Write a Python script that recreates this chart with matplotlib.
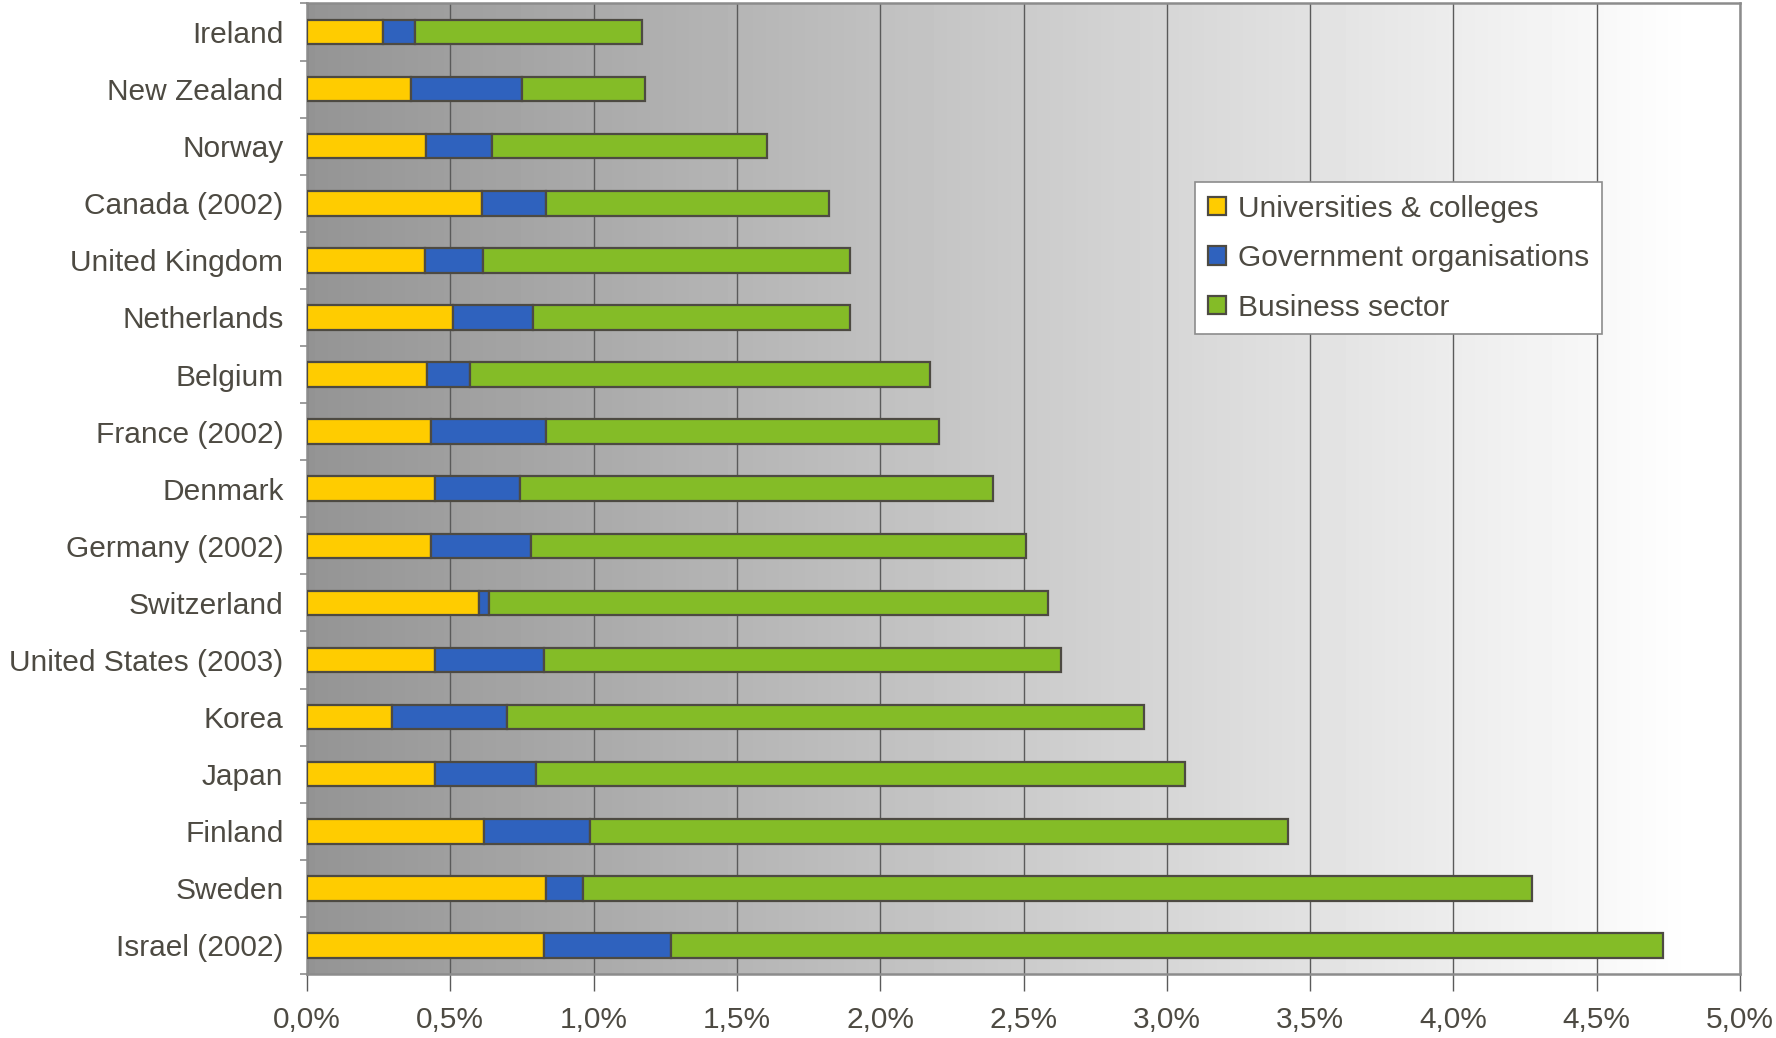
import matplotlib
matplotlib.use("Agg")
import matplotlib.pyplot as plt
import numpy as np
from matplotlib.ticker import FuncFormatter, MultipleLocator, FixedLocator

countries = ["Ireland", "New Zealand", "Norway", "Canada (2002)", "United Kingdom",
             "Netherlands", "Belgium", "France (2002)", "Denmark", "Germany (2002)",
             "Switzerland", "United States (2003)", "Korea", "Japan", "Finland",
             "Sweden", "Israel (2002)"]
universities = [0.265, 0.364, 0.415, 0.609, 0.411, 0.510, 0.419, 0.431, 0.447, 0.431,
                0.601, 0.447, 0.296, 0.447, 0.617, 0.834, 0.826]
government = [0.110, 0.387, 0.229, 0.225, 0.202, 0.280, 0.150, 0.403, 0.296, 0.352,
              0.035, 0.379, 0.400, 0.351, 0.371, 0.130, 0.443]
business = [0.795, 0.427, 0.961, 0.988, 1.280, 1.103, 1.605, 1.372, 1.652, 1.727,
            1.949, 1.806, 2.225, 2.265, 2.435, 3.309, 3.462]
series_names = ["Universities & colleges", "Government organisations", "Business sector"]
colors = ["#FFCC00", "#2F62BE", "#84BC27"]

plt.rcParams["font.family"] = ["Liberation Sans", "DejaVu Sans"]
txt = "#4D4A42"
fs = 21.5

fig = plt.figure(figsize=(17.76, 10.38), dpi=100)
ax = fig.add_axes([0.1729, 0.0617, 0.8068, 0.935])

n = len(countries)
y = np.arange(n)

# background gradient, dark grey to white
grad = np.linspace(148, 255, 256) / 255.0
img = np.tile(grad, (2, 1))
ax.imshow(img, cmap="gray", vmin=0, vmax=1, extent=[0, 4.85, n - 0.5, -0.5],
          aspect="auto", zorder=0, interpolation="bilinear")

left = np.zeros(n)
for vals, name, c in zip([universities, government, business], series_names, colors):
    ax.barh(y, vals, left=left, height=0.43, color=c, edgecolor=txt,
            linewidth=1.6, label=name, zorder=3)
    left = left + np.array(vals)

ax.set_xlim(0, 5)
ax.set_ylim(n - 0.5, -0.5)
ax.set_facecolor("white")

ax.xaxis.set_major_locator(MultipleLocator(0.5))
ax.xaxis.set_major_formatter(FuncFormatter(lambda v, p: f"{v:.1f}%".replace(".", ",")))
ax.grid(axis="x", color="#5A5A5A", linewidth=1.0, zorder=1)
ax.set_axisbelow(True)

ax.set_yticks(y)
ax.set_yticklabels(countries)
ax.yaxis.set_minor_locator(FixedLocator(np.arange(-0.5, n, 1.0)))
ax.tick_params(axis="y", which="major", length=0, pad=17, labelsize=fs, labelcolor=txt)
ax.tick_params(axis="y", which="minor", length=5, width=1.2, color="#8C8C8C", direction="out")
ax.tick_params(axis="x", which="major", length=12, width=1.0, color="#5A5A5A",
               pad=11, labelsize=fs, labelcolor=txt)

for s in ax.spines.values():
    s.set_color("#8C8C8C")
    s.set_linewidth(1.8)

leg = ax.legend(loc="upper left", bbox_to_anchor=(0.62, 0.816), fontsize=fs,
                frameon=True, fancybox=False, edgecolor="#8C8C8C", framealpha=1,
                handlelength=0.6, handleheight=0.6, handletextpad=0.4,
                labelspacing=0.72, borderpad=0.42, borderaxespad=0)
leg.get_frame().set_linewidth(1.2)
for t in leg.get_texts():
    t.set_color(txt)
for h in leg.legend_handles:
    h.set_linewidth(1.6)

fig.savefig("out.png", dpi=100)
